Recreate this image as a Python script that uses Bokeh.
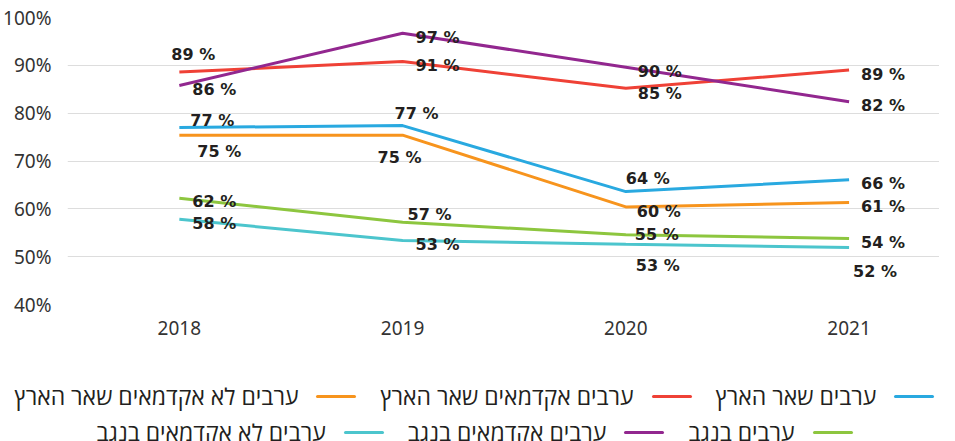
from bokeh.plotting import figure
from bokeh.layouts import column
from bokeh.models import Range1d, FixedTicker, PrintfTickFormatter, ColumnDataSource, Div
from bokeh.core.properties import value
from bokeh.embed import file_html
from bokeh.resources import INLINE

years = [2018, 2019, 2020, 2021]
arabs_rest = [77.0, 77.4, 63.6, 66.1]
arabs_acad_rest = [88.6, 90.8, 85.2, 89.0]
arabs_nonacad_rest = [75.4, 75.4, 60.4, 61.3]
arabs_negev = [62.2, 57.2, 54.6, 53.8]
arabs_acad_negev = [85.8, 96.7, 89.6, 82.4]
arabs_nonacad_negev = [57.8, 53.4, 52.6, 51.9]
y_ticks = [40, 50, 60, 70, 80, 90, 100]

names = ["ערבים שאר הארץ", "ערבים אקדמאים שאר הארץ", "ערבים לא אקדמאים שאר הארץ",
         "ערבים בנגב", "ערבים אקדמאים בנגב", "ערבים לא אקדמאים בנגב"]
series = [arabs_rest, arabs_acad_rest, arabs_nonacad_rest,
          arabs_negev, arabs_acad_negev, arabs_nonacad_negev]
colors = ["#29a9e0", "#ef4136", "#f7941d", "#8dc63f", "#92278f", "#4cc5cd"]

# label pixel offsets (dx, dy-down) per series per year
offsets = [
    [(11, -7), (-8, -12), (0, -13), (12, 4)],
    [(-8, -18), (13, 4), (12, 5), (12, 4)],
    [(18, 16), (-25, 22), (11, 5), (12, 4)],
    [(13, 3), (5, -8), (9, 0), (12, 4)],
    [(13, 4), (13, 4), (12, 4), (12, 4)],
    [(13, 4), (13, 4), (10, 21), (4, 24)],
]

p = figure(width=939, height=340, output_backend="svg", toolbar_location=None,
           x_range=Range1d(2017.499, 2021.405), y_range=Range1d(40, 100),
           min_border_left=66, min_border_right=0, min_border_top=17, min_border_bottom=36)
p.outline_line_color = None
p.background_fill_color = "white"
p.border_fill_color = "white"

for s, c in zip(series, colors):
    p.line(years, s, line_color=c, line_width=3)

lx, ly, lt, dx, dy = [], [], [], [], []
for s, offs in zip(series, offsets):
    for yr, v, (ox, oy) in zip(years, s, offs):
        lx.append(yr); ly.append(v); lt.append(f"{round(v)} %")
        dx.append(ox); dy.append(oy)
src = ColumnDataSource(dict(x=lx, y=ly, t=lt, dx=dx, dy=dy))
p.text(x="x", y="y", text="t", x_offset="dx", y_offset="dy", source=src,
       text_font=value("DejaVu Sans"), text_font_style="bold", text_font_size="16px",
       text_color="#231f20", text_align="left", text_baseline="middle")

p.xaxis.ticker = FixedTicker(ticks=years)
p.yaxis.ticker = FixedTicker(ticks=y_ticks)
p.yaxis.formatter = PrintfTickFormatter(format="%d%%")
for ax in (p.xaxis, p.yaxis):
    ax.axis_line_color = None
    ax.major_tick_line_color = None
    ax.minor_tick_line_color = None
    ax.major_label_text_font = "Noto Sans"
    ax.major_label_text_font_size = "19px"
    ax.major_label_text_color = "#333333"
p.xaxis.major_label_standoff = 10
p.yaxis.major_label_standoff = 10
p.xgrid.grid_line_color = None
p.ygrid.grid_line_color = "#dddddd"
p.ygrid.grid_line_width = 1

# legend as RTL HTML (swatch to the right of its text), two rows of three
def item(name, c):
    return (f'<span style="display:inline-flex;align-items:center;margin:0 12px;">'
            f'<span style="display:inline-block;width:40px;height:3px;background:{c};'
            f'border-radius:2px;margin-left:18px;"></span>{name}</span>')

rows = [list(zip(names[:3], colors[:3])), list(zip(names[3:], colors[3:]))]
html = ('<div dir="rtl" style="width:939px;font-family:\'Open Sans\',\'DejaVu Sans\',sans-serif;'
        'font-size:23px;line-height:23px;color:#231f20;">')
for r in rows:
    html += '<div style="display:flex;justify-content:center;align-items:center;height:36px;white-space:nowrap;">'
    html += "".join(item(n, c) for n, c in r)
    html += "</div>"
html += "</div>"
legend = Div(text=html, width=939, height=85, styles={"padding-top": "33px", "overflow": "visible"})

open("out.html", "w").write(file_html(column(p, legend, spacing=0), INLINE))
